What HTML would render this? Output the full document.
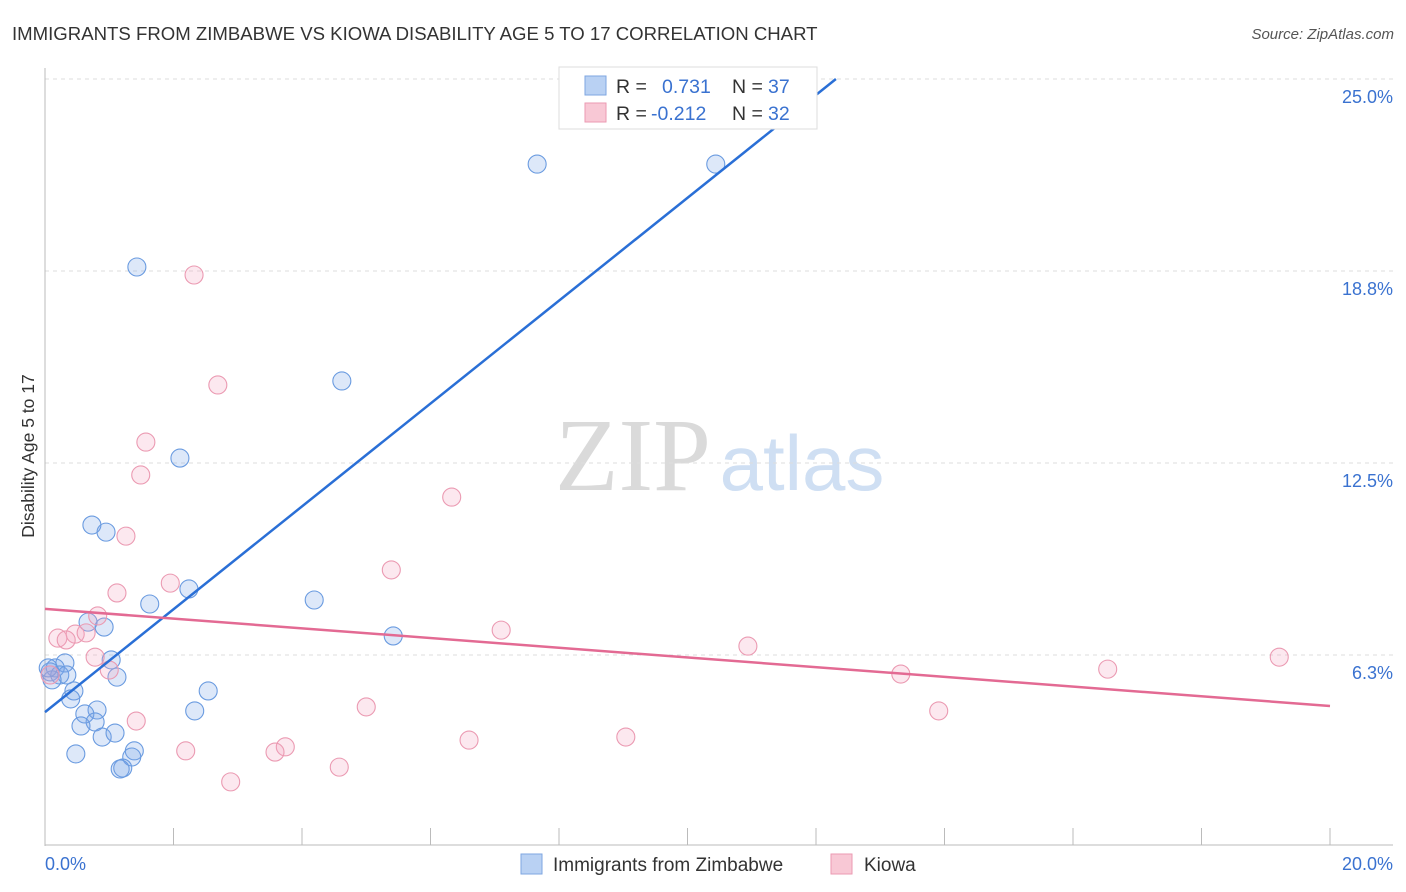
<!DOCTYPE html>
<html><head><meta charset="utf-8"><style>
body{margin:0;background:#fff;font-family:"Liberation Sans",sans-serif}
svg{display:block}
</style></head><body>
<svg id="c" width="1406" height="892">
<text x="12" y="40" font-size="18.6" fill="#333">IMMIGRANTS FROM ZIMBABWE VS KIOWA DISABILITY AGE 5 TO 17 CORRELATION CHART</text>
<text x="1394" y="39" font-size="15" fill="#555" font-style="italic" text-anchor="end">Source: ZipAtlas.com</text>
<text transform="translate(34,456) rotate(-90)" font-size="17.5" fill="#333" text-anchor="middle">Disability Age 5 to 17</text>
<g>
<text x="633" y="490" font-size="104" font-family="Liberation Serif,serif" fill="#dadada" text-anchor="middle">ZIP</text>
<text x="802" y="490" font-size="78" fill="#cfdff3" text-anchor="middle">atlas</text>
</g>
<g id="grid"></g><g id="axes"></g><g id="pts"></g><g id="lines"></g>
<g>
<rect x="559" y="67" width="258" height="62" fill="#fff" stroke="#ddd"/>
<rect x="585" y="76" width="21" height="19" fill="#b9d1f3" stroke="#7ea6e0"/>
<rect x="585" y="103" width="21" height="19" fill="#f8c8d5" stroke="#eb9ab2"/>
<text x="616" y="93" font-size="19.5" fill="#333">R = </text><text x="662" y="93" font-size="19.5" fill="#3a72d0">0.731</text>
<text x="732" y="93" font-size="19.5" fill="#333">N = </text><text x="768" y="93" font-size="19.5" fill="#3a72d0">37</text>
<text x="616" y="120" font-size="19.5" fill="#333">R = </text><text x="651" y="120" font-size="19.5" fill="#3a72d0">-0.212</text>
<text x="732" y="120" font-size="19.5" fill="#333">N = </text><text x="768" y="120" font-size="19.5" fill="#3a72d0">32</text>
</g>
<g>
<rect x="521" y="854" width="21" height="20" fill="#b9d1f3" stroke="#7ea6e0"/>
<text x="553" y="871" font-size="19" fill="#333">Immigrants from Zimbabwe</text>
<rect x="831" y="854" width="21" height="20" fill="#f8c8d5" stroke="#eb9ab2"/>
<text x="864" y="871" font-size="19" fill="#333">Kiowa</text>
</g>
</svg>
<script>
const yTicks=[6.25,12.5,18.75,25];
const yTickLabels=["6.3%","12.5%","18.8%","25.0%"];
const xTickLabels=["0.0%","20.0%"];
const blueX=[1.43,7.66,10.44,4.62,2.10,0.73,0.95,1.63,2.24,4.19,0.67,0.92,5.42,1.03,1.12,0.31,0.16,0.08,0.23,0.34,0.11,0.45,0.40,0.81,0.62,2.33,2.54,0.78,0.56,0.89,1.09,0.48,1.39,1.35,1.21,1.17,0.05];
const blueY=[18.88,22.23,22.23,15.17,12.66,10.48,10.25,7.91,8.40,8.04,7.32,7.16,6.87,6.09,5.53,5.99,5.83,5.70,5.60,5.60,5.44,5.08,4.82,4.46,4.33,4.43,5.08,4.07,3.94,3.58,3.71,3.03,3.13,2.93,2.57,2.54,5.83];
const pinkX=[2.32,2.69,1.57,1.49,6.33,1.26,5.39,1.95,1.12,0.82,0.47,0.64,0.20,0.33,7.10,0.78,1.00,10.94,16.54,19.21,13.32,13.91,5.00,1.42,2.19,3.74,3.58,6.60,9.04,4.58,2.89,0.08];
const pinkY=[18.62,15.04,13.18,12.11,11.39,10.12,9.02,8.59,8.27,7.52,6.93,6.97,6.80,6.74,7.06,6.18,5.76,6.54,5.79,6.18,5.63,4.43,4.56,4.10,3.13,3.26,3.09,3.48,3.58,2.60,2.12,5.60];
const blueLine=[[0,4.39],[12.31,25.0]];
const pinkLine=[[0,7.75],[20,4.59]];
const NS="http://www.w3.org/2000/svg";
const sx=v=>45+v*64.25, sy=v=>847-v*30.72;
function mk(p,t,a){const e=document.createElementNS(NS,t);for(const k in a)e.setAttribute(k,a[k]);p.appendChild(e);return e;}
const grid=document.getElementById('grid'),axes=document.getElementById('axes'),pts=document.getElementById('pts'),lines=document.getElementById('lines');
yTicks.forEach((v,i)=>{
 const l=mk(grid,'line',{x1:45,x2:1393,y1:sy(v),y2:sy(v),stroke:'#ddd','stroke-dasharray':'4,4'});
 
 
 const t=mk(axes,'text',{x:1393,y:sy(v)+24,'font-size':18,fill:'#3a72d0','text-anchor':'end'});t.textContent=yTickLabels[i];
 
 
});
mk(axes,'line',{x1:45,x2:45,y1:68,y2:846,stroke:'#bbb'});
mk(axes,'line',{x1:45,x2:1393,y1:845,y2:845,stroke:'#bbb'});
for(let i=0;i<=10;i++){const x=sx(i*2);mk(axes,'line',{x1:x,x2:x,y1:828,y2:845,stroke:'#bbb'});}
[[0,'start'],[20,'end']].forEach((d,i)=>{
 const t=mk(axes,'text',{x:i?1393:45,y:870,'font-size':18,fill:'#3a72d0','text-anchor':d[1]});t.textContent=xTickLabels[i];
 
 
});
blueX.forEach((x,i)=>{
 const c=mk(pts,'circle',{cx:sx(x),cy:sy(blueY[i]),r:9,fill:'rgba(120,165,230,0.25)',stroke:'#6a9be0','stroke-width':1.1});
 
 
});
pinkX.forEach((x,i)=>{
 const c=mk(pts,'circle',{cx:sx(x),cy:sy(pinkY[i]),r:9,fill:'rgba(245,165,190,0.25)',stroke:'#eb9ab2','stroke-width':1.1});
 
 
});
const bl=mk(lines,'line',{x1:sx(blueLine[0][0]),y1:sy(blueLine[0][1]),x2:sx(blueLine[1][0]),y2:sy(blueLine[1][1]),stroke:'#2a6fd6','stroke-width':2.5});


const pl=mk(lines,'line',{x1:sx(pinkLine[0][0]),y1:sy(pinkLine[0][1]),x2:sx(pinkLine[1][0]),y2:sy(pinkLine[1][1]),stroke:'#e36a93','stroke-width':2.5});


</script>
</body></html>
